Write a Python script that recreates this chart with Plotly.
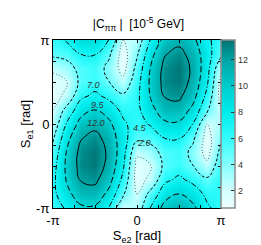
import numpy as np
import plotly.graph_objects as go

# Sampling grid of the two phases (rad)
se2 = np.linspace(-np.pi, np.pi, 13)   # x axis: S_e2
se1 = np.linspace(-np.pi, np.pi, 13)   # y axis: S_e1

# |C_pipi| [1e-5 GeV], rows listed from S_e1 = +pi (top) down to S_e1 = -pi (bottom)
c_pipi_top_down = [
    [5.93, 7.31, 9.07, 9.11, 6.92, 2.00, 2.86, 7.27, 10.40, 11.34, 10.04, 7.44, 5.93],
    [5.10, 5.43, 7.05, 7.13, 4.95, 1.01, 4.17, 8.77, 11.86, 12.68, 11.14, 7.97, 5.10],
    [2.40, 3.43, 5.44, 5.77, 3.82, 1.11, 5.26, 9.73, 12.69, 13.35, 11.58, 7.95, 2.40],
    [1.30, 2.00, 5.18, 5.94, 4.54, 2.60, 6.03, 10.06, 12.79, 13.28, 11.32, 7.40, 1.30],
    [1.10, 2.60, 6.52, 7.49, 6.41, 4.93, 6.41, 9.74, 12.16, 12.47, 10.37, 6.34, 1.10],
    [2.00, 5.38, 8.50, 9.50, 8.39, 6.40, 6.38, 8.80, 10.87, 11.02, 8.84, 4.85, 2.00],
    [2.86, 7.27, 10.40, 11.34, 10.04, 7.44, 5.93, 7.31, 9.07, 9.11, 6.92, 2.00, 2.86],
    [4.17, 8.77, 11.86, 12.68, 11.14, 7.97, 5.10, 5.43, 7.05, 7.13, 4.95, 1.01, 4.17],
    [5.26, 9.73, 12.69, 13.35, 11.58, 7.95, 2.40, 3.43, 5.44, 5.77, 3.82, 1.11, 5.26],
    [6.03, 10.06, 12.79, 13.28, 11.32, 7.40, 1.30, 2.00, 5.18, 5.94, 4.54, 2.60, 6.03],
    [6.41, 9.74, 12.16, 12.47, 10.37, 6.34, 1.10, 2.60, 6.52, 7.49, 6.41, 4.93, 6.41],
    [6.38, 8.80, 10.87, 11.02, 8.84, 4.85, 2.00, 5.38, 8.50, 9.50, 8.39, 6.40, 6.38],
    [5.93, 7.31, 9.07, 9.11, 6.92, 2.00, 2.86, 7.27, 10.40, 11.34, 10.04, 7.44, 5.93],
]
z = c_pipi_top_down[::-1]  # bottom-up to match ascending se1

contour_levels = [2.0, 4.5, 7.0, 9.5, 12.0]
contour_labels = ["2.0", "4.5", "7.0", "9.5", "12.0"]
label_pos = [(0.26, -0.71), (0.12, -0.15), (-1.61, 1.46), (-1.46, 0.71), (-1.53, 0.04)]

cbar_ticks = [2, 4, 6, 8, 10, 12]
zmin, zmax = 0.7, 13.5

stops = [(0.7, "#f0ffff"), (2, "#d2ffff"), (4, "#84ffff"), (6, "#34fcfc"),
         (8, "#00ecec"), (10, "#00cccc"), (12, "#00a4a4"), (13.5, "#007272")]
colorscale = [[(v - zmin) / (zmax - zmin), c] for v, c in stops]

styles = {
    2.0: dict(color="#666666", width=1, dash="1px,2px"),
    4.5: dict(color="black", width=1, dash="3px,2px"),
    7.0: dict(color="black", width=1, dash="5px,2px,1px,2px"),
    9.5: dict(color="black", width=1, dash="6px,3px"),
    12.0: dict(color="black", width=1, dash="solid"),
}

fig = go.Figure()
fig.add_trace(go.Heatmap(
    x=se2, y=se1, z=z, zsmooth="best", colorscale=colorscale,
    zmin=zmin, zmax=zmax,
    colorbar=dict(x=1.0, xanchor="left", xpad=0, y=0.5, yanchor="middle",
                  len=1, lenmode="fraction", ypad=0, thickness=14,
                  outlinecolor="#8a8a8a", outlinewidth=1.5,
                  ticks="inside", ticklen=4, tickcolor="#333333",
                  tickvals=cbar_ticks, tickfont=dict(size=9, color="#333333",
                                                     family="Liberation Sans")),
))
for lvl in contour_levels:
    st = styles[lvl]
    fig.add_trace(go.Contour(
        x=se2, y=se1, z=z, autocontour=False,
        contours=dict(start=lvl, end=lvl, size=1, coloring="none"),
        line=dict(color=st["color"], width=st["width"], dash=st["dash"], smoothing=1.3),
        showscale=False, hoverinfo="skip",
    ))

for txt, (lx, ly) in zip(contour_labels, label_pos):
    fig.add_annotation(x=lx, y=ly, text="<i>%s</i>" % txt, showarrow=False,
                       font=dict(size=9, color="#333333", family="Liberation Sans"))

axis_common = dict(range=[-np.pi, np.pi], tickvals=[-np.pi, 0, np.pi],
                   ticktext=["-π", "0", "π"], ticks="inside",
                   ticklen=3, tickcolor="black", showline=True, linecolor="black",
                   linewidth=1, mirror="ticks", showgrid=False, zeroline=False,
                   minor=dict(tick0=-np.pi, dtick=np.pi / 4, ticks="inside",
                              ticklen=3, tickcolor="black", showgrid=False),
                   tickfont=dict(size=13, color="black", family="Liberation Sans"))
fig.update_xaxes(**axis_common,
                 title=dict(text="S<sub>e2</sub> [rad]", standoff=4,
                            font=dict(size=13, color="black", family="Liberation Sans")))
fig.update_yaxes(**axis_common,
                 title=dict(text="S<sub>e1</sub> [rad]", standoff=2,
                            font=dict(size=13, color="black", family="Liberation Sans")))

fig.update_layout(
    width=261, height=245,
    margin=dict(l=45, r=48, t=32, b=45),
    paper_bgcolor="white", plot_bgcolor="white",
    showlegend=False,
    title=dict(text="|C<sub>ππ</sub> |  [10<sup>-5</sup> GeV]", x=0.5, xanchor="center",
               y=0.935, yanchor="middle", yref="container",
               font=dict(size=12, color="black", family="Liberation Sans")),
)
fig.write_html("out.html")
